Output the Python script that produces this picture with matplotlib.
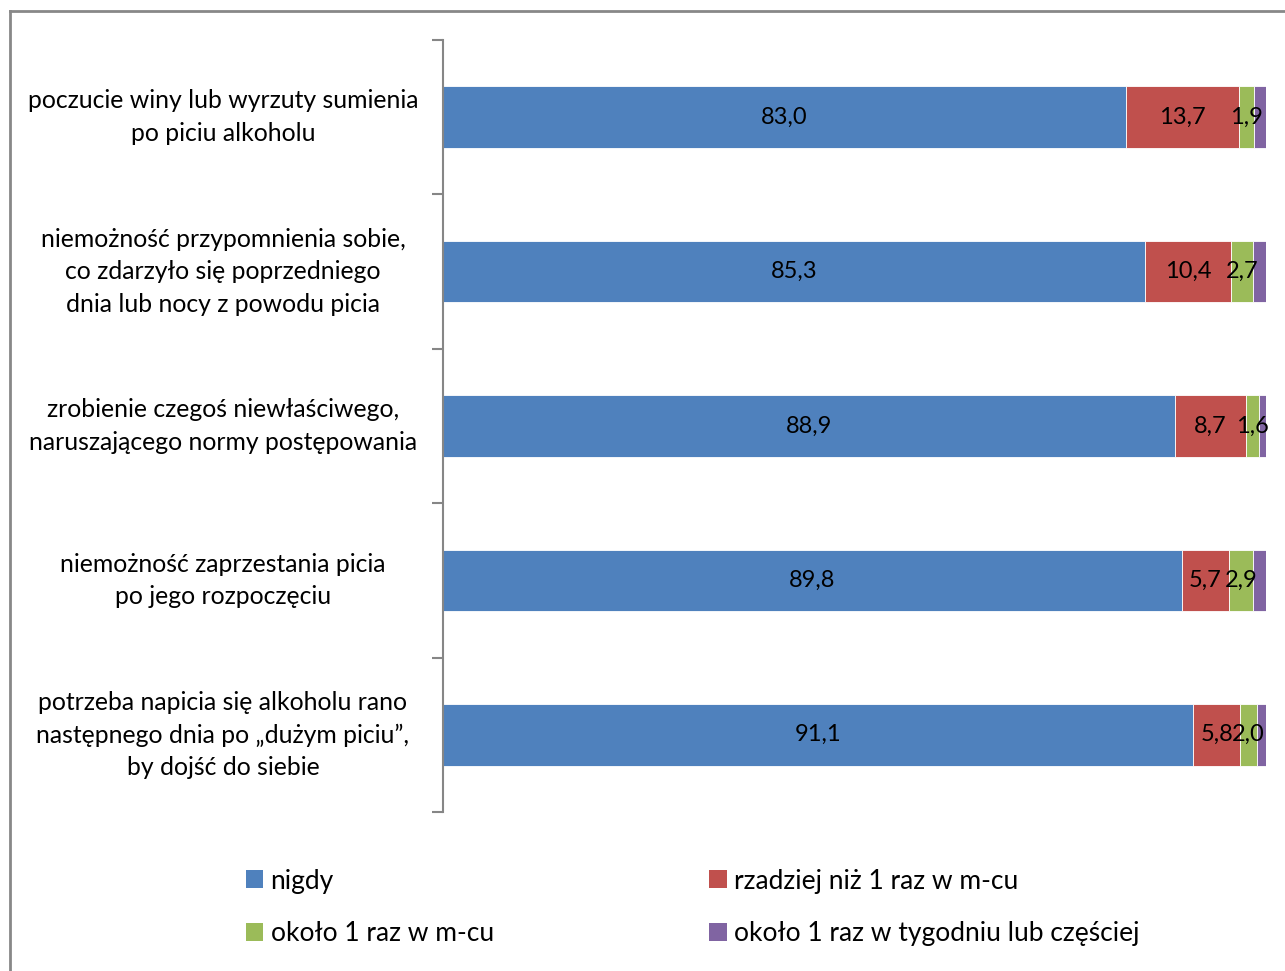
import numpy as np
import matplotlib.pyplot as plt
from matplotlib.patches import Patch
from matplotlib.lines import Line2D

categories = [
    "poczucie winy lub wyrzuty sumienia\npo piciu alkoholu",
    "niemożność przypomnienia sobie,\nco zdarzyło się poprzedniego\ndnia lub nocy z powodu picia",
    "zrobienie czegoś niewłaściwego,\nnaruszającego normy postępowania",
    "niemożność zaprzestania picia\npo jego rozpoczęciu",
    "potrzeba napicia się alkoholu rano\nnastępnego dnia po „dużym piciu”,\nby dojść do siebie",
]
series_names = ["nigdy", "rzadziej niż 1 raz w m-cu", "około 1 raz w m-cu",
                "około 1 raz w tygodniu lub częściej"]
nigdy = [83.0, 85.3, 88.9, 89.8, 91.1]
rzadziej = [13.7, 10.4, 8.7, 5.7, 5.8]
okolo_mc = [1.9, 2.7, 1.6, 2.9, 2.0]
tydzien = [1.4, 1.6, 0.8, 1.6, 1.1]
show_label = [True, True, True, False]

colors = ["#4F81BD", "#C0504D", "#9BBB59", "#8064A2"]
font = "Lato"
fs = 17

fig = plt.figure(figsize=(12.85, 9.71), dpi=100)
ax = fig.add_axes([443 / 1285, 1 - 812 / 971, (1266 - 443) / 1285, (812 - 40) / 971])

y = np.arange(len(categories))
left = np.zeros(len(categories))
for vals, col, name, lab in zip([nigdy, rzadziej, okolo_mc, tydzien], colors, series_names, show_label):
    vals = np.array(vals)
    ax.barh(y, vals, left=left, height=0.40, color=col, edgecolor="white", linewidth=0.6, label=name)
    if lab:
        for yi, l, v in zip(y, left, vals):
            ax.text(l + v / 2, yi, f"{v:.1f}".replace(".", ","), ha="center", va="center",
                    fontsize=fs, family=font, color="black")
    left += vals

ax.set_xlim(0, 100)
ax.set_ylim(len(categories) - 0.5, -0.5)
ax.set_yticks(y)
ax.set_yticklabels(categories, fontsize=17.8, family=font, ha="center", va="center",
                   multialignment="center", linespacing=1.5)
# label centres sit ~220 px left of the axis
ax.tick_params(axis="y", which="major", length=0, pad=220 * 72 / 100)
ax.set_yticks(np.arange(-0.5, len(categories)), minor=True)
ax.tick_params(axis="y", which="minor", length=8, width=1.5, color="#868686", direction="out")
ax.set_xticks([])
for s in ["top", "right", "bottom"]:
    ax.spines[s].set_visible(False)
ax.spines["left"].set_color("#868686")
ax.spines["left"].set_linewidth(1.5)

handles = [Patch(facecolor=colors[0], label=series_names[0]),
           Patch(facecolor=colors[2], label=series_names[2]),
           Patch(facecolor=colors[1], label=series_names[1]),
           Patch(facecolor=colors[3], label=series_names[3])]
fig.legend(handles=handles, ncol=2, loc="upper left", bbox_to_anchor=(235 / 1285, 1 - 858 / 971),
           frameon=False, prop={"family": font, "size": 19}, handlelength=0.65, handleheight=0.65,
           handletextpad=0.3, columnspacing=8.17, labelspacing=1.05, borderaxespad=0)

# outer frame
fig.add_artist(Line2D([10 / 1285, 10 / 1285], [0, 1 - 11 / 971], transform=fig.transFigure,
                      color="#888888", lw=2))
fig.add_artist(Line2D([10 / 1285, 1], [1 - 11 / 971, 1 - 11 / 971], transform=fig.transFigure,
                      color="#888888", lw=2))

fig.savefig("out.png", dpi=100)
